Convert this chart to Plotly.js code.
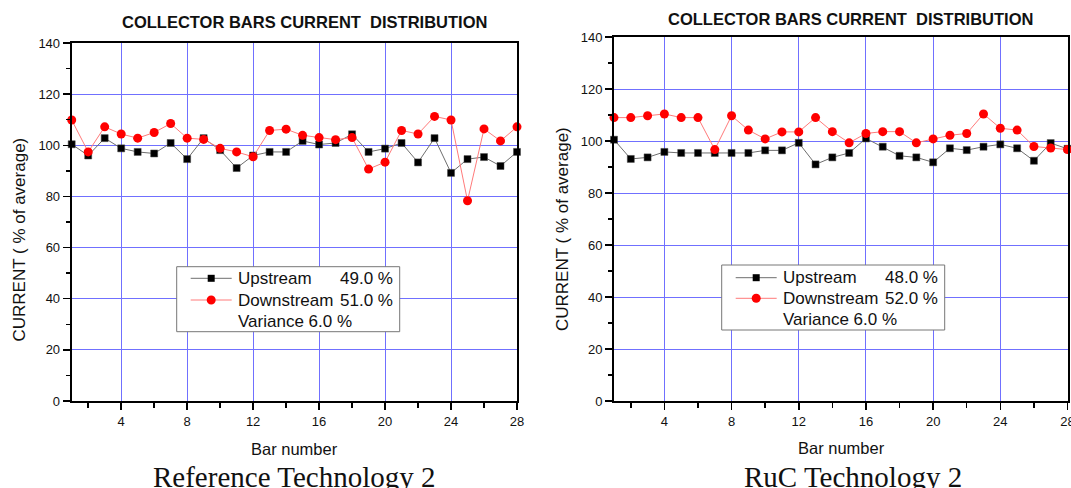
<!DOCTYPE html>
<html>
<head>
<meta charset="utf-8">
<script src="https://cdn.plot.ly/plotly-3.0.1.min.js"></script>
<style>
  html, body { margin: 0; padding: 0; background: #ffffff; }
  #chart { width: 1071px; height: 488px; }
</style>
</head>
<body>
<div id="chart"></div>
<script>
// Collector bar numbers (x axis)
const barNumbers = [1, 2, 3, 4, 5, 6, 7, 8, 9, 10, 11, 12, 13, 14,
                    15, 16, 17, 18, 19, 20, 21, 22, 23, 24, 25, 26, 27, 28];

// Reference Technology 2 — current per bar, % of average
const refUpstream = [100.4, 96.0, 102.8, 98.8, 97.4, 96.8, 100.9, 94.6, 102.8, 98.1,
                     91.1, 96.0, 97.4, 97.4, 101.7, 100.3, 100.9, 104.3, 97.4, 98.7,
                     100.9, 93.3, 102.8, 89.2, 94.6, 95.4, 91.9, 97.4];
const refDownstream = [109.9, 97.4, 107.2, 104.4, 102.8, 105.0, 108.5, 102.8, 102.3, 98.8,
                       97.4, 95.5, 105.8, 106.3, 103.9, 103.0, 102.2, 103.0, 90.7, 93.4,
                       105.8, 104.4, 111.3, 109.9, 78.3, 106.4, 101.7, 107.2];

// RuC Technology 2 — current per bar, % of average
const rucUpstream = [100.5, 93.1, 93.7, 95.8, 95.4, 95.4, 95.4, 95.4, 95.4, 96.4,
                     96.4, 99.3, 91.0, 93.7, 95.4, 101.0, 97.8, 94.3, 93.7, 91.8,
                     97.2, 96.5, 97.8, 98.7, 97.2, 92.4, 99.2, 97.0];
const rucDownstream = [109.0, 109.0, 109.7, 110.4, 109.0, 109.0, 96.7, 109.7, 104.2, 100.8,
                       103.5, 103.5, 109.0, 103.6, 99.3, 102.9, 103.6, 103.6, 99.3, 100.8,
                       102.2, 102.9, 110.4, 104.9, 104.2, 97.9, 97.3, 96.7];

// Legend shares
const refShares = { upstream: "49.0 %", downstream: "51.0 %", variance: "Variance 6.0 %" };
const rucShares = { upstream: "48.0 %", downstream: "52.0 %", variance: "Variance 6.0 %" };

// Text
const chartTitle = "COLLECTOR BARS CURRENT\u00a0 DISTRIBUTION";
const xTitle = "Bar number";
const yTitle = "CURRENT ( % of average)";
const captions = ["Reference Technology 2", "RuC Technology 2"];
const seriesNames = ["Upstream", "Downstream"];

// ---------------------------------------------------------------------------
const W = 1071, H = 488;
const px = x => x / W;
const py = y => 1 - y / H;

const SANS = "Liberation Sans, Arial, sans-serif";
const SERIF = "Liberation Serif, Times New Roman, serif";
const GRID = "rgb(112,112,255)";
const UP_LINE = "#6e6e6e";
const DOWN_LINE = "#ff7a7a";

const panels = [
  { xref: "x",  yref: "y",  left: 71.7, right: 517.0, top: 43, bottom: 401,
    up: refUpstream, down: refDownstream, shares: refShares, caption: captions[0],
    titleX: 304, titleY: 22.5, xTitleX: 294.4, xTitleY: 449, yTitleX: 18.5, yTitleY: 240,
    capX: 293.6, legL: 176.7, legT: 266.7, legRows: [278.3, 300, 321] },
  { xref: "x2", yref: "y2", left: 614.0, right: 1067.5, top: 37, bottom: 401,
    up: rucUpstream, down: rucDownstream, shares: rucShares, caption: captions[1],
    titleX: 850.6, titleY: 18.6, xTitleX: 841.7, xTitleY: 447.5, yTitleX: 563, yTitleY: 229,
    capX: 852.8, legL: 721.7, legT: 265, legRows: [277.7, 298.3, 319.3] }
];

const traces = [];
const layout = {
  width: W, height: H,
  margin: { l: 0, r: 0, t: 0, b: 0, pad: 0 },
  paper_bgcolor: "#ffffff", plot_bgcolor: "#ffffff",
  showlegend: false,
  font: { family: SANS, color: "#111111", size: 13 },
  annotations: [], shapes: []
};

function axisCommon() {
  return {
    showline: true, linecolor: "#000000", linewidth: 2, mirror: true,
    ticks: "outside", ticklen: 7, tickwidth: 1.5, tickcolor: "#000000",
    showgrid: true, gridcolor: GRID, gridwidth: 1,
    zeroline: false, fixedrange: true, ticklabeloverflow: "allow",
    tickfont: { family: SANS, size: 13, color: "#111111" }
  };
}

panels.forEach((p, i) => {
  const sfx = i === 0 ? "" : "2";
  traces.push({
    type: "scatter", mode: "lines+markers", name: seriesNames[0],
    x: barNumbers, y: p.up, xaxis: p.xref, yaxis: p.yref,
    line: { color: UP_LINE, width: 1 },
    marker: { symbol: "square", size: 7, color: "#000000", line: { color: "#444444", width: 0.5 } },
    cliponaxis: false
  });
  traces.push({
    type: "scatter", mode: "lines+markers", name: seriesNames[1],
    x: barNumbers, y: p.down, xaxis: p.xref, yaxis: p.yref,
    line: { color: DOWN_LINE, width: 1 },
    marker: { symbol: "circle", size: 9, color: "#ff0000", line: { width: 0 } },
    cliponaxis: false
  });

  layout["xaxis" + sfx] = Object.assign(axisCommon(), {
    domain: [px(p.left), px(p.right)], anchor: "y" + sfx,
    range: [1, 28], tickmode: "array", tickvals: [4, 8, 12, 16, 20, 24, 28],
    minor: { tickmode: "linear", tick0: 0, dtick: 2, ticklen: 5, tickwidth: 1.5, tickcolor: "#000000", ticks: "outside", showgrid: false }
  });
  layout["yaxis" + sfx] = Object.assign(axisCommon(), {
    domain: [py(p.bottom), py(p.top)], anchor: "x" + sfx,
    range: [0, 140], tickmode: "linear", tick0: 0, dtick: 20,
    minor: { tickmode: "linear", tick0: 0, dtick: 10, ticklen: 4, tickwidth: 1.5, tickcolor: "#000000", ticks: "outside", showgrid: false }
  });

  const ann = layout.annotations;
  const base = { xref: "paper", yref: "paper", showarrow: false };
  ann.push(Object.assign({}, base, { x: px(p.titleX), y: py(p.titleY), xanchor: "center", yanchor: "middle",
    text: "<b>" + chartTitle + "</b>", font: { family: SANS, size: 16.5, color: "#111111" } }));
  ann.push(Object.assign({}, base, { x: px(p.xTitleX), y: py(p.xTitleY), xanchor: "center", yanchor: "middle",
    text: xTitle, font: { family: SANS, size: 16.5, color: "#111111" } }));
  ann.push(Object.assign({}, base, { x: px(p.yTitleX), y: py(p.yTitleY), xanchor: "center", yanchor: "middle",
    textangle: -90, text: yTitle, font: { family: SANS, size: 17, color: "#111111" } }));
  ann.push(Object.assign({}, base, { x: px(p.capX), y: py(477), xanchor: "center", yanchor: "middle",
    text: p.caption, font: { family: SERIF, size: 29, color: "#111111" } }));

  // Legend box with keys and share labels
  const L = p.legL, T = p.legT;
  const boxW = 223, boxH = 65;
  layout.shapes.push({ type: "rect", xref: "paper", yref: "paper",
    x0: px(L), x1: px(L + boxW), y0: py(T), y1: py(T + boxH),
    line: { color: "#777777", width: 1 }, fillcolor: "rgba(255,255,255,1)", layer: "above" });
  const keyX0 = L + 14, keyX1 = L + 55, keyC = L + 34.5;
  const textX = L + 59, valX = textX + 102;
  [[UP_LINE, "square"], [DOWN_LINE, "circle"]].forEach((k, r) => {
    const yy = p.legRows[r];
    layout.shapes.push({ type: "line", xref: "paper", yref: "paper",
      x0: px(keyX0), x1: px(keyX1), y0: py(yy), y1: py(yy),
      line: { color: k[0], width: 1 }, layer: "above" });
    if (k[1] === "square") {
      layout.shapes.push({ type: "rect", xref: "paper", yref: "paper",
        x0: px(keyC - 3.5), x1: px(keyC + 3.5), y0: py(yy - 3.5), y1: py(yy + 3.5),
        fillcolor: "#000000", line: { width: 0 }, layer: "above" });
    } else {
      layout.shapes.push({ type: "circle", xref: "paper", yref: "paper",
        x0: px(keyC - 4.5), x1: px(keyC + 4.5), y0: py(yy - 4.5), y1: py(yy + 4.5),
        fillcolor: "#ff0000", line: { width: 0 }, layer: "above" });
    }
    ann.push(Object.assign({}, base, { x: px(textX), y: py(yy), xanchor: "left", yanchor: "middle",
      text: seriesNames[r], font: { family: SANS, size: 17, color: "#111111" } }));
    ann.push(Object.assign({}, base, { x: px(valX), y: py(yy), xanchor: "left", yanchor: "middle",
      text: r === 0 ? p.shares.upstream : p.shares.downstream, font: { family: SANS, size: 17, color: "#111111" } }));
  });
  ann.push(Object.assign({}, base, { x: px(textX), y: py(p.legRows[2]), xanchor: "left", yanchor: "middle",
    text: p.shares.variance, font: { family: SANS, size: 17, color: "#111111" } }));
});

Plotly.newPlot("chart", traces, layout, { staticPlot: true, displayModeBar: false });
</script>
</body>
</html>
